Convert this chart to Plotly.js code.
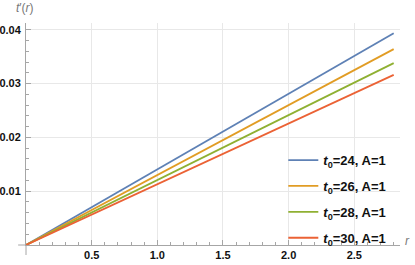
<!DOCTYPE html>
<html>
<head>
<meta charset="utf-8">
<script src="https://cdn.plot.ly/plotly-3.0.1.min.js"></script>
<style>html,body{margin:0;padding:0;background:#fff;}#chart{width:415px;height:265px;}</style>
</head>
<body>
<div id="chart"></div>
<script>
// Data
const rValues = [0, 2.8];
const seriesNames = ["<i>t</i><sub>0</sub>=24, A=1", "<i>t</i><sub>0</sub>=26, A=1", "<i>t</i><sub>0</sub>=28, A=1", "<i>t</i><sub>0</sub>=30, A=1"];
const t24 = [0, 0.03935];
const t26 = [0, 0.0364];
const t28 = [0, 0.0338];
const t30 = [0, 0.0316];
const xTickVals = [0.5, 1.0, 1.5, 2.0, 2.5];
const xTickText = ["0.5", "1.0", "1.5", "2.0", "2.5"];
const yTickVals = [0.01, 0.02, 0.03, 0.04];
const yTickText = ["0.01", "0.02", "0.03", "0.04"];

const colors = ["#5E81B5", "#E19C24", "#8FB032", "#EB6235"];
const allSeries = [t24, t26, t28, t30];

const traces = allSeries.map((ys, i) => ({
  x: rValues, y: ys, type: "scatter", mode: "lines",
  name: seriesNames[i], legendgroup: "g" + i,
  line: {color: colors[i], width: 1.8}
}));

const axisGray = "#a6a6a6";
const tickFont = {family: "Liberation Sans, Arial, sans-serif", size: 11, color: "#111", weight: "bold"};

const layout = {
  width: 415, height: 265,
  margin: {l: 26, r: 15, t: 23, b: 18},
  paper_bgcolor: "#fff", plot_bgcolor: "#fff",
  showlegend: true,
  legend: {
    x: 0.688, xanchor: "left", y: 0.45, yanchor: "top",
    bgcolor: "rgba(0,0,0,0)", borderwidth: 0,
    tracegroupgap: 6,
    font: {family: "Liberation Sans, Arial, sans-serif", size: 13, color: "#111", weight: "bold"}
  },
  xaxis: {
    range: [0, 2.848], showgrid: true, gridcolor: "#e8e8e8", gridwidth: 1,
    zeroline: false, showline: true, linecolor: axisGray, linewidth: 1,
    tickmode: "array", tickvals: xTickVals, ticktext: xTickText,
    ticks: "inside", ticklen: 5, tickcolor: axisGray, tickwidth: 1,
    minor: {dtick: 0.1, tick0: 0, ticks: "inside", ticklen: 3, tickcolor: axisGray, showgrid: false},
    tickfont: tickFont
  },
  yaxis: {
    range: [0, 0.04125], showgrid: true, gridcolor: "#e8e8e8", gridwidth: 1,
    zeroline: false, showline: true, linecolor: axisGray, linewidth: 1,
    tickmode: "array", tickvals: yTickVals, ticktext: yTickText,
    ticks: "inside", ticklen: 5, tickcolor: axisGray, tickwidth: 1,
    minor: {dtick: 0.002, tick0: 0, ticks: "inside", ticklen: 3, tickcolor: axisGray, showgrid: false},
    tickfont: tickFont, ticklabelstandoff: 2
  },
  shapes: [
    {type: "line", xref: "paper", yref: "paper", x0: -0.021, x1: 0, y0: 0, y1: 0, line: {color: axisGray, width: 1}},
    {type: "line", xref: "paper", yref: "paper", x0: 0, x1: 0, y0: -0.045, y1: 0, line: {color: axisGray, width: 1}}
  ],
  annotations: [
    {text: "<i>t</i>′(<i>r</i>)", xref: "paper", yref: "paper", x: -0.003, y: 1.068, xanchor: "center", yanchor: "middle",
     showarrow: false, font: {family: "Liberation Sans, Arial, sans-serif", size: 12, color: "#777"}},
    {text: "<i>r</i>", xref: "paper", yref: "paper", x: 1.02, y: 0.02, xanchor: "center", yanchor: "middle",
     showarrow: false, font: {family: "Liberation Sans, Arial, sans-serif", size: 12, color: "#777"}}
  ]
};

Plotly.newPlot("chart", traces, layout, {staticPlot: true, displayModeBar: false});
</script>
</body>
</html>
